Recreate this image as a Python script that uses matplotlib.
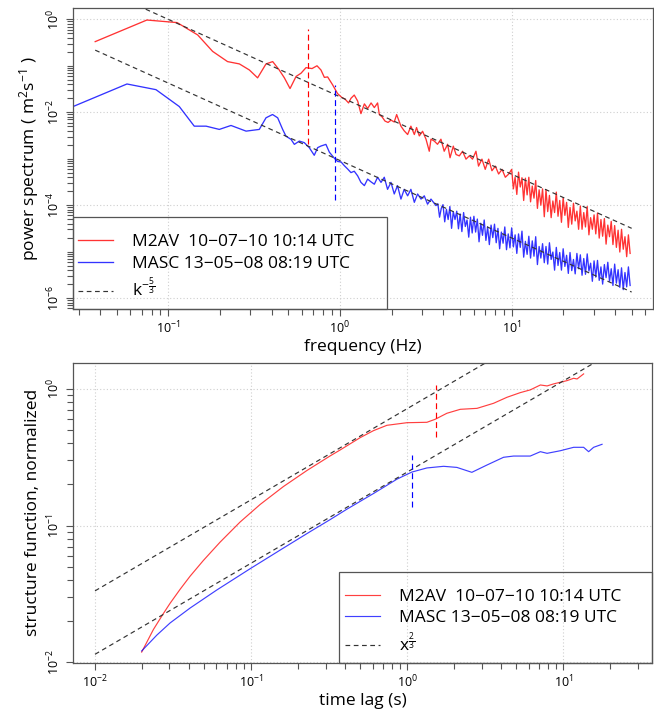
import numpy as np
import matplotlib
matplotlib.use('Agg')
import matplotlib.pyplot as plt
from matplotlib.ticker import FixedLocator, NullFormatter, LogFormatterSciNotation
from matplotlib.patches import Rectangle

plt.rcParams['font.family'] = ['Open Sans', 'DejaVu Sans']
plt.rcParams['mathtext.fontset'] = 'custom'
plt.rcParams['mathtext.rm'] = 'Open Sans'
plt.rcParams['mathtext.it'] = 'Open Sans:italic'
plt.rcParams['mathtext.bf'] = 'Open Sans:bold'

# ---------------- data: power spectra (log10 frequency, log10 power) ----------------
red_lo_logf = [-1.426, -1.125, -0.949, -0.829, -0.742, -0.655, -0.586, -0.528, -0.480, -0.431,
               -0.392, -0.354, -0.324, -0.291, -0.256, -0.227, -0.198, -0.163, -0.134, -0.111,
               -0.091, -0.072, -0.043, -0.014, 0.010, 0.030, 0.050, 0.064, 0.083, 0.103,
               0.122, 0.142, 0.161, 0.181, 0.200, 0.219, 0.229, 0.245, 0.262, 0.280,
               0.297, 0.316, 0.330, 0.355, 0.374, 0.394, 0.413, 0.433, 0.446, 0.462,
               0.481, 0.501, 0.520, 0.530, 0.549, 0.568, 0.588, 0.607, 0.627, 0.641,
               0.660, 0.676, 0.695, 0.714, 0.734, 0.753, 0.772, 0.792, 0.807, 0.827,
               0.846, 0.866, 0.885, 0.905, 0.924, 0.944, 0.963, 0.983]
red_lo_logp = [-0.48, -0.015, -0.07, -0.336, -0.69, -0.91, -0.96, -1.09, -1.26, -0.96,
               -0.91, -1.09, -1.26, -1.49, -1.23, -1.16, -1.04, -1.06, -1.00, -1.09,
               -1.25, -1.24, -1.41, -1.60, -1.68, -1.72, -1.80, -1.70, -1.63, -1.76,
               -2.03, -1.82, -1.92, -1.80, -1.90, -1.80, -2.05, -2.10, -2.19, -2.22,
               -2.17, -2.21, -2.05, -2.30, -2.40, -2.48, -2.30, -2.48, -2.33, -2.51,
               -2.41, -2.58, -2.84, -2.58, -2.62, -2.69, -2.58, -2.84, -2.69, -2.98,
               -2.73, -2.91, -2.94, -2.84, -3.01, -2.94, -3.01, -2.84, -3.16, -3.01,
               -3.23, -3.01, -3.26, -3.16, -3.33, -3.23, -3.40, -3.33]
red_hi_logp = [-3.23, -3.65, -3.40, -3.77, -3.29, -3.61, -3.41, -3.90, -3.42, -3.78,
               -3.40, -3.93, -3.59, -3.85, -3.47, -4.07, -3.67, -4.00, -3.65, -4.25,
               -3.67, -4.14, -3.79, -4.27, -3.91, -4.16, -3.72, -4.24, -3.90, -4.37,
               -3.84, -4.22, -3.94, -4.48, -4.05, -4.41, -3.96, -4.34, -4.13, -4.52,
               -4.02, -4.52, -4.16, -4.47, -4.03, -4.64, -4.27, -4.52, -4.21, -4.62,
               -4.17, -4.71, -4.31, -4.67, -4.29, -4.84, -4.43, -4.68, -4.35, -4.85,
               -4.44, -4.91, -4.54, -5.01, -4.52, -4.95, -4.68, -5.11, -4.64, -5.04]
red_hi_logf = np.linspace(1.00, 1.69, len(red_hi_logp))

blue_lo_logf = [-1.559, -1.241, -1.072, -0.936, -0.849, -0.780, -0.703, -0.635, -0.547, -0.470,
                -0.431, -0.393, -0.363, -0.334, -0.315, -0.285, -0.266, -0.237, -0.208, -0.179,
                -0.150, -0.130, -0.111, -0.082, -0.062, -0.033, -0.014, 0.006, 0.025, 0.044,
                0.064, 0.083, 0.103, 0.122, 0.142, 0.161, 0.181, 0.200, 0.219, 0.239,
                0.258, 0.277, 0.297, 0.316, 0.335, 0.355, 0.374, 0.394, 0.413, 0.433,
                0.452, 0.472, 0.491, 0.510, 0.530, 0.559]
blue_lo_logp = [-1.884, -1.392, -1.514, -1.878, -2.300, -2.300, -2.370, -2.285, -2.407, -2.370,
                -2.120, -2.049, -2.120, -2.370, -2.514, -2.585, -2.692, -2.621, -2.655, -2.762,
                -2.927, -2.762, -2.728, -2.692, -2.86, -2.99, -3.06, -3.07, -3.15, -3.22,
                -3.30, -3.27, -3.37, -3.51, -3.58, -3.44, -3.50, -3.55, -3.40, -3.51,
                -3.40, -3.66, -3.51, -3.76, -3.58, -3.87, -3.66, -3.80, -3.66, -3.94,
                -3.76, -3.87, -3.80, -3.98, -3.87, -4.01]
blue_hi_logp = [-3.97, -4.26, -4.07,
                -3.99, -4.36, -4.09, -4.31, -4.03, -4.50, -4.14, -4.31, -4.13, -4.51,
                -4.19, -4.57, -4.16, -4.46, -4.32, -4.69, -4.26, -4.60, -4.24, -4.58,
                -4.30, -4.79, -4.39, -4.65, -4.32, -4.76, -4.47, -4.85, -4.43, -4.70,
                -4.41, -4.81, -4.50, -4.94, -4.58, -4.82, -4.47, -4.96, -4.62, -4.92,
                -4.49, -4.90, -4.64, -5.04, -4.62, -4.91, -4.56, -5.12, -4.78, -5.06,
                -4.67, -5.14, -4.77, -5.10, -4.68, -5.28, -4.89, -5.14, -4.83, -5.24,
                -4.89, -5.27, -4.81, -5.17, -5.01, -5.40, -4.91, -5.30, -5.02, -5.40,
                -4.94, -5.32, -5.08, -5.47, -5.02, -5.41, -5.17, -5.48, -5.04, -5.37,
                -5.07, -5.51, -5.15, -5.49, -5.05, -5.42, -5.25, -5.64, -5.20, -5.55,
                -5.19, -5.62, -5.33, -5.70, -5.28, -5.56, -5.23, -5.64, -5.37, -5.73,
                -5.27, -5.68, -5.39, -5.77, -5.35, -5.82, -5.45, -5.76, -5.33, -5.73]
blue_hi_logf = np.linspace(0.57, 1.69, len(blue_hi_logp))

# k^-5/3 guide lines: frequency span and amplitudes (log10)
spec_guide_f = [0.0375, 50.0]
spec_guide_logamp = [-1.668, -3.04]
# vertical markers: frequency, log10 bottom, log10 top
spec_mark_red = [0.648, -2.69, -0.214]
spec_mark_blue = [0.93, -3.89, -1.407]

# ---------------- data: structure functions ----------------
red_sf_logx = [-1.701, -1.626, -1.562, -1.519, -1.455, -1.391, -1.306, -1.199, -1.071, -0.942,
               -0.793, -0.643, -0.494, -0.429, -0.301, -0.216, -0.130, -0.002, 0.126, 0.179,
               0.254, 0.340, 0.447, 0.553, 0.639, 0.724, 0.788, 0.853, 0.896, 0.938,
               1.024, 1.066, 1.088, 1.130]
red_sf_logy = [-1.925, -1.760, -1.643, -1.568, -1.466, -1.370, -1.255, -1.121, -0.974, -0.845,
               -0.714, -0.597, -0.490, -0.446, -0.356, -0.305, -0.266, -0.247, -0.244, -0.222,
               -0.178, -0.149, -0.142, -0.105, -0.061, -0.027, -0.007, 0.029, 0.022, 0.037,
               0.061, 0.078, 0.073, 0.110]
blue_sf_logx = [-1.701, -1.604, -1.519, -1.391, -1.220, -1.006, -0.793, -0.622, -0.494, -0.387,
                -0.216, -0.066, 0.030, 0.126, 0.233, 0.318, 0.414, 0.510, 0.617, 0.681,
                0.788, 0.853, 0.896, 0.981, 1.066, 1.130, 1.162, 1.194, 1.216, 1.248]
blue_sf_logy = [-1.917, -1.801, -1.712, -1.603, -1.471, -1.315, -1.164, -1.044, -0.956, -0.880,
                -0.765, -0.660, -0.608, -0.578, -0.566, -0.574, -0.610, -0.557, -0.500, -0.491,
                -0.491, -0.459, -0.471, -0.452, -0.427, -0.427, -0.459, -0.427, -0.418, -0.405]
sf_guide_x = [0.01, 40.0]
sf_guide_logamp = [-0.144, -0.608]
sf_mark_red = [1.53, -0.349, 0.029]
sf_mark_blue = [1.07, -0.862, -0.484]

labels_spec = ['M2AV  10\u221207\u221210 10:14 UTC', 'MASC 13\u221205\u221208 08:19 UTC',
               r'$\mathrm{k}^{-\frac{5}{3}}$']
labels_sf = ['M2AV  10\u221207\u221210 10:14 UTC', 'MASC 13\u221205\u221208 08:19 UTC',
             r'$\mathrm{x}^{\frac{2}{3}}$']

RED = (1.0, 0.0, 0.0)
BLUE = (0.0, 0.0, 1.0)
GUIDE = '#333333'
SPINE = '#555555'
LW = 0.85
ALPHA = 0.75
FS_LAB = 12.5
FS_LEG = 12.5

fig = plt.figure(figsize=(6.54, 7.13), dpi=100)
ax1 = fig.add_axes([73/654, 1 - 308.7/713, 580/654, 300.7/713])
ax2 = fig.add_axes([73/654, 1 - 663/713, 579/654, 300.3/713])


def style_axis(ax):
    for s in ax.spines.values():
        s.set_color(SPINE)
        s.set_linewidth(0.9)
    ax.tick_params(which='both', direction='out', color=SPINE, width=0.8,
                   labelsize=9, pad=3)
    ax.tick_params(which='major', length=5)
    ax.tick_params(which='minor', length=4.5)
    ax.grid(True, which='major', color='#cfcfcf', linestyle=(0, (1, 2)), linewidth=0.8)
    ax.xaxis.set_major_formatter(LogFormatterSciNotation())
    ax.yaxis.set_major_formatter(LogFormatterSciNotation())
    ax.xaxis.set_minor_formatter(NullFormatter())
    ax.yaxis.set_minor_formatter(NullFormatter())
    ax.tick_params(axis='y', labelrotation=90)
    for t in ax.yaxis.get_major_ticks():
        t.label1.set_verticalalignment('center')


def legend_box(ax, handles, labels, box, anchor):
    # box: (x0, y0, w, h) in axes fraction ; anchor: (x, y) of left-center of entries
    ax.add_patch(Rectangle(box[:2], box[2], box[3], transform=ax.transAxes, fill=False,
                           edgecolor=SPINE, linewidth=0.9, zorder=6, clip_on=False))
    ax.legend(handles, labels, loc='center left', bbox_to_anchor=anchor, frameon=False,
              borderpad=0, borderaxespad=0, fontsize=FS_LEG, handlelength=2.0,
              handletextpad=1.1, labelspacing=0.3)


# ---------------- top: power spectrum ----------------
ax1.set_xscale('log')
ax1.set_yscale('log')
red_f = 10 ** np.concatenate([red_lo_logf, red_hi_logf])
red_p = 10 ** np.concatenate([red_lo_logp, red_hi_logp])
blue_f = 10 ** np.concatenate([blue_lo_logf, blue_hi_logf])
blue_p = 10 ** np.concatenate([blue_lo_logp, blue_hi_logp])
l_red, = ax1.plot(red_f, red_p, color=RED, lw=0.95, alpha=0.8)
l_blue, = ax1.plot(blue_f, blue_p, color=BLUE, lw=0.95, alpha=0.8)
gf = np.array(spec_guide_f)
for la in spec_guide_logamp:
    l_g, = ax1.plot(gf, 10 ** la * gf ** (-5 / 3), color=GUIDE, lw=LW, linestyle=(0, (4, 3)))
ax1.plot([spec_mark_red[0]] * 2, 10 ** np.array(spec_mark_red[1:]), color=RED, lw=LW,
         linestyle=(0, (5, 3)))
ax1.plot([spec_mark_blue[0]] * 2, 10 ** np.array(spec_mark_blue[1:]), color=BLUE, lw=LW,
         linestyle=(0, (5, 3)))
ax1.set_xlim(10 ** -1.5553, 10 ** 1.8233)
ax1.set_ylim(10 ** -6.230, 10 ** 0.244)
ax1.xaxis.set_major_locator(FixedLocator([0.1, 1, 10]))
ax1.xaxis.set_minor_locator(FixedLocator([m * 10.0 ** e for e in (-2, -1, 0, 1)
                                          for m in range(2, 10)]))
ax1.yaxis.set_major_locator(FixedLocator([1e-6, 1e-4, 1e-2, 1e0]))
ax1.yaxis.set_minor_locator(FixedLocator([m * 10.0 ** e for e in range(-7, 1)
                                          for m in range(1, 10)]))
style_axis(ax1)
ax1.set_xlabel('frequency (Hz)', fontsize=FS_LAB, labelpad=2)
ax1.set_ylabel('power spectrum ( m$^{2}$s$^{-1}$ )', fontsize=FS_LAB, labelpad=3)
legend_box(ax1, [l_red, l_blue, l_g], labels_spec,
           (0, 0, 314/580, 92/300.7), (5/580, (308.7 - 267.5)/300.7))

# ---------------- bottom: structure function ----------------
ax2.set_xscale('log')
ax2.set_yscale('log')
s_red, = ax2.plot(10 ** np.array(red_sf_logx), 10 ** np.array(red_sf_logy), color=RED, lw=LW,
                  alpha=ALPHA)
s_blue, = ax2.plot(10 ** np.array(blue_sf_logx), 10 ** np.array(blue_sf_logy), color=BLUE,
                   lw=LW, alpha=ALPHA)
gx = np.array(sf_guide_x)
for la in sf_guide_logamp:
    s_g, = ax2.plot(gx, 10 ** la * gx ** (2 / 3), color=GUIDE, lw=LW, linestyle=(0, (4, 3)))
ax2.plot([sf_mark_red[0]] * 2, 10 ** np.array(sf_mark_red[1:]), color=RED, lw=LW,
         linestyle=(0, (5, 3)))
ax2.plot([sf_mark_blue[0]] * 2, 10 ** np.array(sf_mark_blue[1:]), color=BLUE, lw=LW,
         linestyle=(0, (5, 3)))
ax2.set_xlim(10 ** -2.141, 10 ** 1.568)
ax2.set_ylim(10 ** -2.005, 10 ** 0.192)
ax2.xaxis.set_major_locator(FixedLocator([0.01, 0.1, 1, 10]))
ax2.xaxis.set_minor_locator(FixedLocator([m * 10.0 ** e for e in (-2, -1, 0, 1)
                                          for m in range(2, 10) if m * 10.0 ** e <= 30]))
ax2.yaxis.set_major_locator(FixedLocator([0.01, 0.1, 1]))
ax2.yaxis.set_minor_locator(FixedLocator([m * 10.0 ** e for e in (-2, -1, 0)
                                          for m in range(2, 10)]))
style_axis(ax2)
ax2.set_xlabel('time lag (s)', fontsize=FS_LAB, labelpad=2)
ax2.set_ylabel('structure function, normalized', fontsize=FS_LAB, labelpad=3)
legend_box(ax2, [s_red, s_blue, s_g], labels_sf,
           ((339 - 73)/579, 0, 313/579, 91.3/300.3), ((345 - 73)/579, (663 - 622)/300.3))

fig.savefig('out.png', dpi=100)
